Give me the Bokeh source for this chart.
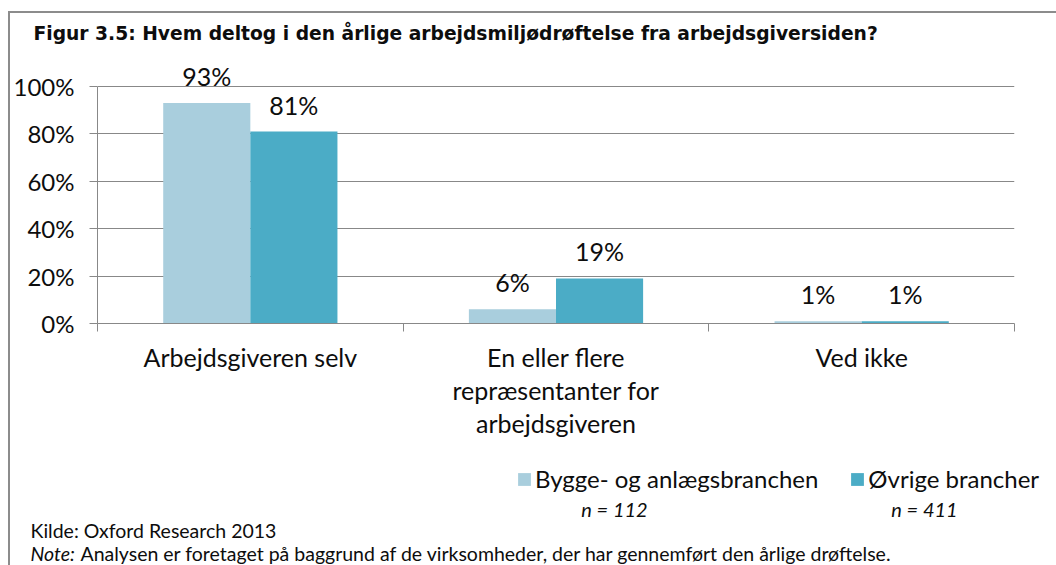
from bokeh.plotting import figure
from bokeh.layouts import column
from bokeh.models import (Range1d, FixedTicker, PrintfTickFormatter, Label, LabelSet,
                          ColumnDataSource, Legend, LegendItem)
from bokeh.core.properties import value
from bokeh.embed import file_html
from bokeh.resources import INLINE

# ---- data ----
categories = ["Arbejdsgiveren selv",
              "En eller flere\nrepræsentanter for\narbejdsgiveren",
              "Ved ikke"]
series_names = ["Bygge- og anlægsbranchen", "Øvrige brancher"]
series_n = ["n = 112", "n = 411"]
bygge = [93, 6, 1]
ovrige = [81, 19, 1]
y_ticks = [0, 20, 40, 60, 80, 100]
title_text = "Figur 3.5: Hvem deltog i den årlige arbejdsmiljødrøftelse fra arbejdsgiversiden?"
source_text = "Kilde: Oxford Research 2013"
note_label = "Note:"
note_text = "Analysen er foretaget på baggrund af de virksomheder, der har gennemført den årlige drøftelse."

LIGHT = "#A9CEDD"
DARK = "#4BACC6"
GRAY = "#888888"
FONT = "Lato"
TXT = "#0d0d0d"
FS = "25px"

# page layout (pixels): content box starts at x=10, y=13 (after margin + 2px border)
X0, Y0 = 10, 13
CW = 1046
T_H, A_H, B_H = 39, 403, 110
A_TOP = Y0 + T_H           # 52
B_TOP = A_TOP + A_H         # 455
FRAME_L, FRAME_R = 97, 1014
FRAME_T, FRAME_B = 58, 323
Y100 = 86                   # pixel of the 100% gridline
px_per_unit = (FRAME_B - Y100) / 100.0
y_end = 100 + (Y100 - FRAME_T) / px_per_unit

def text_canvas(top, h):
    f = figure(width=CW, height=h, output_backend="svg", toolbar_location=None,
               x_range=Range1d(X0, X0 + CW), y_range=Range1d(top + h, top),
               x_axis_type=None, y_axis_type=None, frame_align=False,
               min_border=0, min_border_left=0, min_border_right=0,
               min_border_top=0, min_border_bottom=0)
    f.outline_line_color = None
    f.grid.visible = False
    return f

def lab(f, text, X, Y, size, align="left", style="normal", font=FONT):
    f.add_layout(Label(x=X, y=Y, text=text, text_font=font, text_font_size=size,
                       text_font_style=style, text_align=align,
                       text_baseline="middle", text_color=TXT))

# ---- title strip ----
pT = text_canvas(Y0, T_H)
lab(pT, title_text, 33, 33, "18.7px", style="bold", font="DejaVu Sans")

# ---- chart ----
p = figure(width=CW, height=A_H, output_backend="svg", toolbar_location=None,
           x_range=Range1d(0, len(categories)), y_range=Range1d(0, y_end),
           frame_align=False,
           min_border_left=FRAME_L - X0, min_border_right=X0 + CW - FRAME_R,
           min_border_top=FRAME_T - A_TOP, min_border_bottom=A_TOP + A_H - FRAME_B)
p.outline_line_color = None
p.xgrid.grid_line_color = None
p.ygrid.grid_line_color = GRAY
p.ygrid.grid_line_width = 1

bw = 0.285
xc = [i + 0.5 for i in range(len(categories))]
src1 = ColumnDataSource(dict(x=[c - bw / 2 for c in xc], top=bygge, lab=[f"{v}%" for v in bygge]))
src2 = ColumnDataSource(dict(x=[c + bw / 2 for c in xc], top=ovrige, lab=[f"{v}%" for v in ovrige]))
p.vbar(x="x", top="top", width=bw, bottom=0, source=src1, fill_color=LIGHT, line_color=None)
p.vbar(x="x", top="top", width=bw, bottom=0, source=src2, fill_color=DARK, line_color=None)

for s in (src1, src2):
    p.add_layout(LabelSet(x="x", y="top", text="lab", source=s, text_align="center",
                          text_baseline="middle", y_offset=27, text_font=value(FONT),
                          text_font_size=value(FS), text_color=TXT))

ya = p.yaxis[0]
ya.ticker = FixedTicker(ticks=y_ticks)
ya.formatter = PrintfTickFormatter(format="%d%%")
ya.bounds = (0, 100)
ya.axis_line_color = GRAY
ya.major_tick_line_color = GRAY
ya.major_tick_out = 8
ya.major_tick_in = 0
ya.minor_tick_line_color = None
ya.major_label_text_font = FONT
ya.major_label_text_font_size = "24px"
ya.major_label_text_color = TXT
ya.major_label_standoff = 15

xa = p.xaxis[0]
xa.ticker = FixedTicker(ticks=xc, minor_ticks=list(range(len(categories) + 1)))
xa.major_label_overrides = {t: c for t, c in zip(xc, categories)}
xa.axis_line_color = GRAY
xa.major_tick_out = 0
xa.major_tick_in = 0
xa.minor_tick_out = 8
xa.minor_tick_in = 0
xa.minor_tick_line_color = GRAY
xa.major_label_text_font = FONT
xa.major_label_text_font_size = FS
xa.major_label_text_color = TXT
xa.major_label_standoff = 10
xa.major_label_text_line_height = 1.10

# ---- bottom strip: legend, n, source, note ----
pB = text_canvas(B_TOP, B_H)
h1 = pB.vbar(x="x", top="top", width=bw, source=src1, fill_color=LIGHT, line_color=None, visible=False)
h2 = pB.vbar(x="x", top="top", width=bw, source=src2, fill_color=DARK, line_color=None, visible=False)
legend = Legend(items=[LegendItem(label=series_names[0], renderers=[h1]),
                       LegendItem(label=series_names[1], renderers=[h2])],
                orientation="horizontal", location=(516 - X0, B_TOP + B_H - 493),
                glyph_width=16, glyph_height=16, label_standoff=3, spacing=31,
                padding=0, margin=0, border_line_color=None, background_fill_alpha=0,
                inactive_fill_alpha=0,
                label_text_font=FONT, label_text_font_size="24px", label_text_color=TXT,
                label_height=16)
pB.add_layout(legend, "center")
lab(pB, series_n[0], 614, 508, "20px", align="center", style="italic")
lab(pB, series_n[1], 924, 508, "20px", align="center", style="italic")
lab(pB, source_text, 30, 530, "19.5px")
lab(pB, note_label, 30, 553, "19.5px", style="italic")
lab(pB, note_text, 80, 553, "19.5px")

layout = column(pT, p, pB, spacing=0,
                styles={"border-left": "2px solid #8C8C8C", "border-top": "2px solid #8C8C8C",
                        "margin-left": "8px", "margin-top": "11px"})

open("out.html", "w").write(file_html(layout, INLINE))
